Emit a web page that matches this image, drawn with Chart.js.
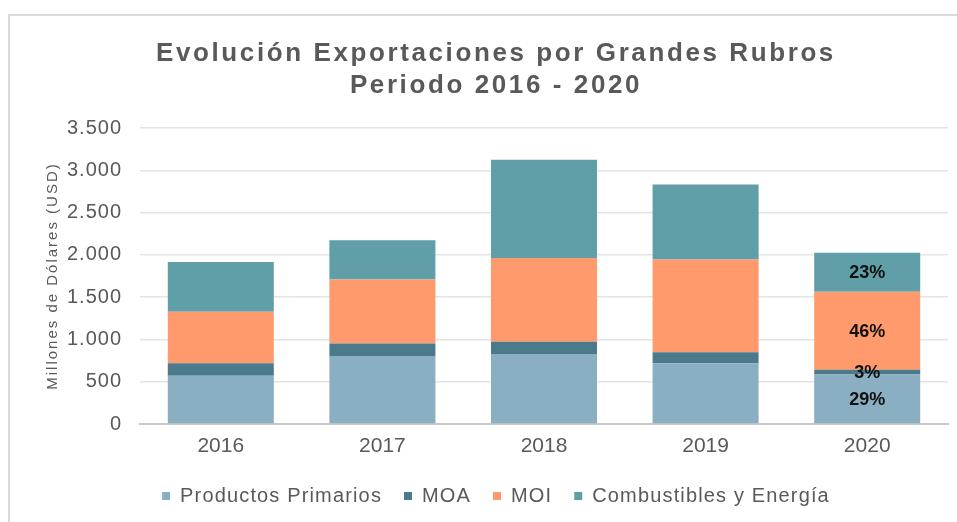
<!DOCTYPE html>
<html><head><meta charset="utf-8">
<script src="https://cdn.jsdelivr.net/npm/chart.js@4/dist/chart.umd.min.js"></script>
<style>
html,body{margin:0;padding:0;background:#fff;}
#wrap{position:relative;width:957px;height:522px;overflow:hidden;}
#frame{position:absolute;left:8px;top:14px;right:-10px;bottom:-10px;border-left:2px solid #d9d9d9;border-top:2px solid #d9d9d9;}
canvas{position:absolute;left:0;top:0;}
</style></head><body>
<div id="wrap"><div id="frame"></div><canvas id="c" width="957" height="522"></canvas></div>
<script>
const categories = ['2016','2017','2018','2019','2020'];
const productosPrimarios = [570, 803, 827, 717, 585];
const moa = [147, 150, 145, 130, 55];
const moi = [609, 756, 992, 1098, 925];
const combustibles = [591, 464, 1162, 886, 460];
const seriesNames = ['Productos Primarios', 'MOA', 'MOI', 'Combustibles y Energía'];
const titleLines = ['Evolución Exportaciones por Grandes Rubros', 'Periodo 2016 - 2020'];
const yAxisTitle = 'Millones de Dólares (USD)';
const yMax = 3500;
const yStep = 500;
const labeledCategory = '2020';

const colors = ['#8AAFC2', '#4B7A8D', '#FE9A6B', '#609EA8'];
const seriesValues = [productosPrimarios, moa, moi, combustibles];
const TXT = '#595959';
const FAMILY = '"Liberation Sans", Arial, sans-serif';

function wrapSpacing(chart, obj, names, sp, after) {
  if (!obj) return;
  const ctx = chart.ctx;
  names.forEach(n => {
    const orig = obj[n];
    if (!orig || orig.__sp) return;
    const f = function(...a) {
      const prev = ctx.letterSpacing;
      ctx.letterSpacing = sp;
      try { return orig.apply(this, a); } finally { ctx.letterSpacing = prev; if (after) after.call(this, n); }
    };
    f.__sp = true;
    obj[n] = f;
  });
}

const spacingPlugin = {
  id: 'spacing',
  beforeLayout(chart) {
    wrapSpacing(chart, chart.titleBlock, ['update', 'draw'], '2.6px');
    wrapSpacing(chart, chart.legend, ['fit', 'draw'], '1.15px', function(n) { if (n === 'fit') this.height = 58; });
    wrapSpacing(chart, chart.scales.y, ['update', 'drawLabels'], '1px');
    if (chart.scales.y && !chart.scales.y.__t) {
      const s = chart.scales.y; const o = s.drawTitle;
      s.drawTitle = function(...a) { const c = chart.ctx; const p = c.letterSpacing; c.letterSpacing = '2px'; try { return o.apply(this, a); } finally { c.letterSpacing = p; } };
      s.__t = true;
    }
  }
};

const pctPlugin = {
  id: 'pct',
  afterDatasetsDraw(chart) {
    const idx = categories.indexOf(labeledCategory);
    if (idx < 0) return;
    const total = seriesValues.reduce((s, arr) => s + arr[idx], 0);
    const ctx = chart.ctx;
    ctx.save();
    ctx.font = 'bold 18px ' + FAMILY;
    ctx.fillStyle = '#111';
    ctx.textAlign = 'center';
    ctx.textBaseline = 'middle';
    chart.data.datasets.forEach((ds, di) => {
      const el = chart.getDatasetMeta(di).data[idx];
      const p = el.getProps(['x', 'y', 'base'], true);
      const pct = Math.round(ds.data[idx] / total * 100) + '%';
      ctx.fillText(pct, p.x, (p.y + p.base) / 2 + 1);
    });
    ctx.restore();
  }
};

new Chart(document.getElementById('c'), {
  type: 'bar',
  data: {
    labels: categories,
    datasets: seriesNames.map((name, i) => ({
      label: name,
      data: seriesValues[i],
      backgroundColor: colors[i],
      borderWidth: 0,
      categoryPercentage: 1,
      barPercentage: 0.656
    }))
  },
  options: {
    responsive: false,
    devicePixelRatio: 1,
    animation: false,
    layout: { padding: { left: 44, right: 9, top: 0, bottom: 0 } },
    plugins: {
      title: {
        display: true,
        text: titleLines,
        color: TXT,
        font: { family: FAMILY, size: 26, weight: 'bold', lineHeight: 32/26 },
        padding: { top: 38, bottom: 26 }
      },
      legend: {
        position: 'bottom',
        labels: {
          color: TXT,
          font: { family: FAMILY, size: 20 },
          boxWidth: 8, boxHeight: 8,
          padding: 22
        }
      },
      tooltip: { enabled: false }
    },
    scales: {
      x: {
        stacked: true,
        grid: { display: false, drawTicks: false },
        border: { display: true, color: '#c8c8c8', width: 2 },
        ticks: { color: TXT, font: { family: FAMILY, size: 21 }, padding: 10 },
        afterFit: s => { s.height = 40; }
      },
      y: {
        stacked: true,
        min: 0, max: yMax,
        grid: { color: '#e4e4e4', lineWidth: 1.5, drawTicks: false },
        border: { display: false },
        ticks: {
          stepSize: yStep,
          color: TXT,
          font: { family: FAMILY, size: 20 },
          padding: 18,
          callback: v => v.toLocaleString('de-DE')
        },
        title: {
          display: true, text: yAxisTitle, color: TXT,
          font: { family: FAMILY, size: 15, lineHeight: 1.2 },
          padding: { top: 0, bottom: 3 }
        },
        afterFit: s => { s.width = 96; }
      }
    }
  },
  plugins: [spacingPlugin, pctPlugin]
});
</script>
</body></html>
